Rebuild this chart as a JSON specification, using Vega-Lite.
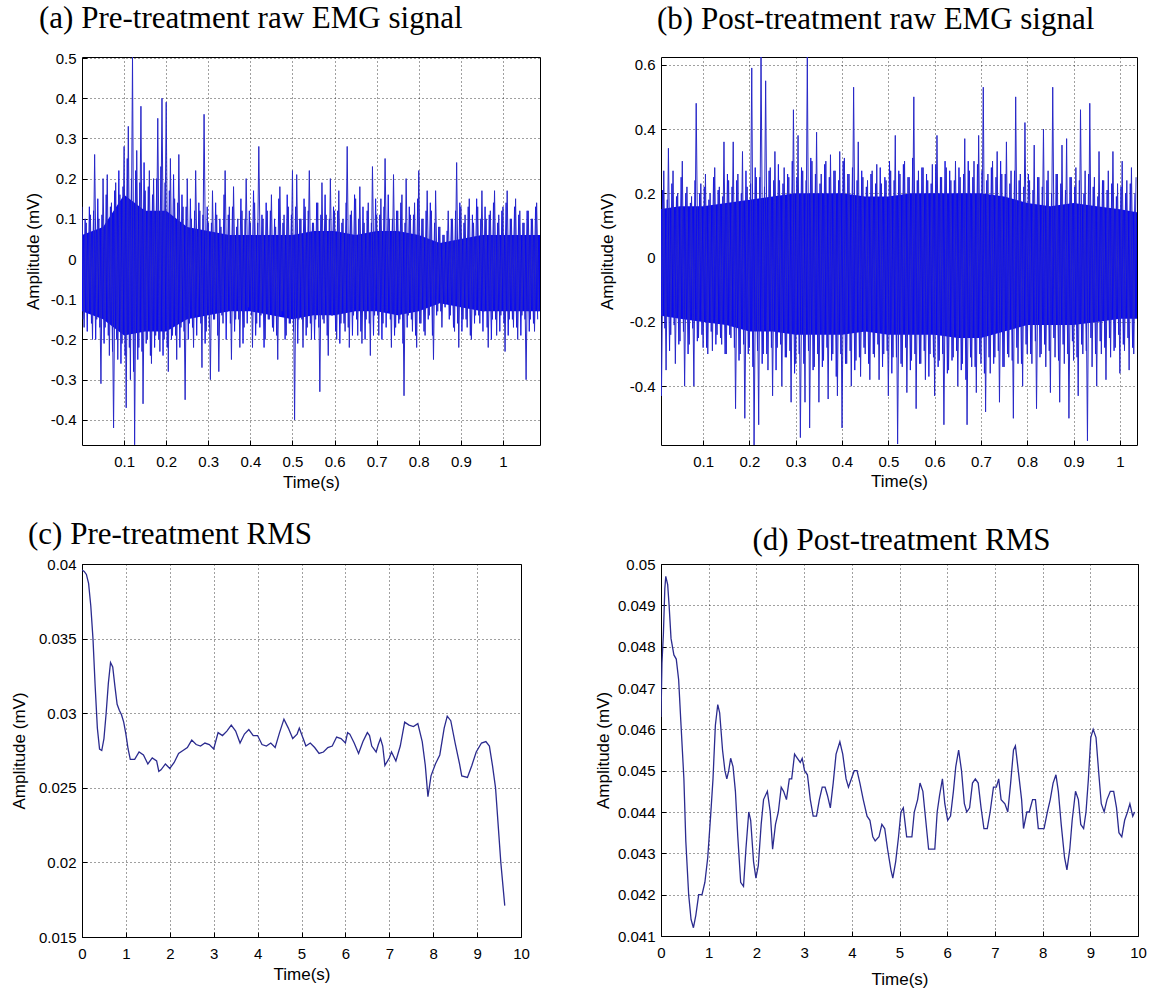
{
"$schema": "https://vega.github.io/schema/vega-lite/v6.json",
"background": "white",
"padding": {"left": 9, "top": 2, "right": 5, "bottom": 2},
"config": {
  "locale": {"number": {"decimal": ".", "thousands": ",", "grouping": [3], "currency": ["", ""], "minus": "-"}},
  "view": {"stroke": "#000", "strokeWidth": 1},
  "axis": {"grid": true, "gridColor": "#000", "gridDash": [1, 3], "gridOpacity": 0.75, "gridWidth": 1, "domain": false, "ticks": true, "tickSize": -5, "tickColor": "#000", "tickWidth": 1, "labelFont": "Liberation Sans", "labelFontSize": 15, "labelColor": "#000", "titleFont": "Liberation Sans", "titleFontSize": 17, "titleFontWeight": "normal", "titleColor": "#000", "labelFlush": false, "labelOverlap": false},
  "axisX": {"labelPadding": 14, "titleBaseline": "middle"},
  "axisY": {"labelPadding": 11, "titleBaseline": "bottom", "titleAngle": -90},
  "title": {"font": "Liberation Serif", "fontSize": 31, "fontWeight": "normal", "color": "#000", "baseline": "alphabetic", "frame": "group"}
},
"columns": 2,
"bounds": "flush",
"spacing": {"row": 119, "column": 121},
"datasets": {
  "a_core": [{"t":0,"v":-0.13,"hi":0.06},{"t":0.05,"v":-0.15,"hi":0.08},{"t":0.1,"v":-0.19,"hi":0.16},{"t":0.15,"v":-0.18,"hi":0.12},{"t":0.2,"v":-0.18,"hi":0.12},{"t":0.25,"v":-0.15,"hi":0.08},{"t":0.3,"v":-0.14,"hi":0.07},{"t":0.35,"v":-0.13,"hi":0.06},{"t":0.4,"v":-0.13,"hi":0.06},{"t":0.45,"v":-0.14,"hi":0.06},{"t":0.5,"v":-0.15,"hi":0.06},{"t":0.55,"v":-0.14,"hi":0.07},{"t":0.6,"v":-0.14,"hi":0.07},{"t":0.65,"v":-0.13,"hi":0.06},{"t":0.7,"v":-0.13,"hi":0.07},{"t":0.75,"v":-0.14,"hi":0.07},{"t":0.8,"v":-0.13,"hi":0.06},{"t":0.85,"v":-0.11,"hi":0.04},{"t":0.9,"v":-0.12,"hi":0.05},{"t":0.95,"v":-0.13,"hi":0.06},{"t":1.0,"v":-0.13,"hi":0.06},{"t":1.05,"v":-0.13,"hi":0.06},{"t":1.088,"v":-0.13,"hi":0.06}],
  "a_sig": [{"t":0,"v":0.13},{"t":0.005,"v":-0.17},{"t":0.01,"v":0.09},{"t":0.015,"v":-0.13},{"t":0.02,"v":0.11},{"t":0.025,"v":-0.2},{"t":0.03,"v":0.26},{"t":0.035,"v":-0.15},{"t":0.04,"v":0.1},{"t":0.045,"v":-0.31},{"t":0.05,"v":0.2},{"t":0.055,"v":-0.17},{"t":0.06,"v":0.21},{"t":0.065,"v":-0.24},{"t":0.07,"v":0.14},{"t":0.075,"v":-0.42},{"t":0.08,"v":0.19},{"t":0.085,"v":-0.25},{"t":0.09,"v":0.16},{"t":0.095,"v":-0.21},{"t":0.1,"v":0.28},{"t":0.105,"v":-0.37},{"t":0.11,"v":0.33},{"t":0.115,"v":-0.3},{"t":0.12,"v":0.505},{"t":0.125,"v":-0.462},{"t":0.13,"v":0.27},{"t":0.135,"v":-0.22},{"t":0.14,"v":0.38},{"t":0.145,"v":-0.36},{"t":0.15,"v":0.17},{"t":0.155,"v":-0.2},{"t":0.16,"v":0.22},{"t":0.165,"v":-0.26},{"t":0.17,"v":0.2},{"t":0.175,"v":-0.19},{"t":0.18,"v":0.35},{"t":0.185,"v":-0.23},{"t":0.19,"v":0.4},{"t":0.195,"v":-0.2},{"t":0.2,"v":0.39},{"t":0.205,"v":-0.28},{"t":0.21,"v":0.25},{"t":0.215,"v":-0.19},{"t":0.22,"v":0.15},{"t":0.225,"v":-0.25},{"t":0.23,"v":0.26},{"t":0.235,"v":-0.17},{"t":0.24,"v":0.13},{"t":0.245,"v":-0.35},{"t":0.25,"v":0.2},{"t":0.255,"v":-0.16},{"t":0.26,"v":0.1},{"t":0.265,"v":-0.22},{"t":0.27,"v":0.22},{"t":0.275,"v":-0.14},{"t":0.28,"v":0.12},{"t":0.285,"v":-0.27},{"t":0.29,"v":0.36},{"t":0.295,"v":-0.18},{"t":0.3,"v":0.09},{"t":0.305,"v":-0.3},{"t":0.31,"v":0.17},{"t":0.315,"v":-0.15},{"t":0.32,"v":0.11},{"t":0.325,"v":-0.28},{"t":0.33,"v":0.08},{"t":0.335,"v":-0.16},{"t":0.34,"v":0.22},{"t":0.345,"v":-0.13},{"t":0.35,"v":0.13},{"t":0.355,"v":-0.25},{"t":0.36,"v":0.18},{"t":0.365,"v":-0.15},{"t":0.37,"v":0.1},{"t":0.375,"v":-0.22},{"t":0.38,"v":0.12},{"t":0.385,"v":-0.17},{"t":0.39,"v":0.2},{"t":0.395,"v":-0.12},{"t":0.4,"v":0.09},{"t":0.405,"v":-0.22},{"t":0.41,"v":0.14},{"t":0.415,"v":-0.16},{"t":0.42,"v":0.28},{"t":0.425,"v":-0.14},{"t":0.43,"v":0.1},{"t":0.435,"v":-0.2},{"t":0.44,"v":0.12},{"t":0.445,"v":-0.15},{"t":0.45,"v":0.16},{"t":0.455,"v":-0.18},{"t":0.46,"v":0.08},{"t":0.465,"v":-0.25},{"t":0.47,"v":0.18},{"t":0.475,"v":-0.13},{"t":0.48,"v":0.11},{"t":0.485,"v":-0.19},{"t":0.49,"v":0.13},{"t":0.495,"v":-0.16},{"t":0.5,"v":0.22},{"t":0.505,"v":-0.4},{"t":0.51,"v":0.21},{"t":0.515,"v":-0.15},{"t":0.52,"v":0.1},{"t":0.525,"v":-0.22},{"t":0.53,"v":0.13},{"t":0.535,"v":-0.17},{"t":0.54,"v":0.22},{"t":0.545,"v":-0.2},{"t":0.55,"v":0.09},{"t":0.555,"v":-0.15},{"t":0.56,"v":0.14},{"t":0.565,"v":-0.33},{"t":0.57,"v":0.19},{"t":0.575,"v":-0.16},{"t":0.58,"v":0.11},{"t":0.585,"v":-0.24},{"t":0.59,"v":0.2},{"t":0.595,"v":-0.14},{"t":0.6,"v":0.12},{"t":0.605,"v":-0.2},{"t":0.61,"v":0.17},{"t":0.615,"v":-0.16},{"t":0.62,"v":0.1},{"t":0.625,"v":-0.18},{"t":0.63,"v":0.28},{"t":0.635,"v":-0.22},{"t":0.64,"v":0.12},{"t":0.645,"v":-0.14},{"t":0.65,"v":0.15},{"t":0.655,"v":-0.19},{"t":0.66,"v":0.18},{"t":0.665,"v":-0.21},{"t":0.67,"v":0.09},{"t":0.675,"v":-0.15},{"t":0.68,"v":0.14},{"t":0.685,"v":-0.24},{"t":0.69,"v":0.23},{"t":0.695,"v":-0.14},{"t":0.7,"v":0.11},{"t":0.705,"v":-0.19},{"t":0.71,"v":0.15},{"t":0.715,"v":-0.16},{"t":0.72,"v":0.25},{"t":0.725,"v":-0.13},{"t":0.73,"v":0.1},{"t":0.735,"v":-0.22},{"t":0.74,"v":0.21},{"t":0.745,"v":-0.17},{"t":0.75,"v":0.12},{"t":0.755,"v":-0.15},{"t":0.76,"v":0.16},{"t":0.765,"v":-0.34},{"t":0.77,"v":0.2},{"t":0.775,"v":-0.14},{"t":0.78,"v":0.11},{"t":0.785,"v":-0.18},{"t":0.79,"v":0.14},{"t":0.795,"v":-0.22},{"t":0.8,"v":0.22},{"t":0.805,"v":-0.16},{"t":0.81,"v":0.1},{"t":0.815,"v":-0.19},{"t":0.82,"v":0.17},{"t":0.825,"v":-0.14},{"t":0.83,"v":0.12},{"t":0.835,"v":-0.25},{"t":0.84,"v":0.17},{"t":0.845,"v":-0.13},{"t":0.85,"v":0.08},{"t":0.855,"v":-0.17},{"t":0.86,"v":0.06},{"t":0.865,"v":-0.11},{"t":0.87,"v":0.12},{"t":0.875,"v":-0.14},{"t":0.88,"v":0.1},{"t":0.885,"v":-0.18},{"t":0.89,"v":0.24},{"t":0.895,"v":-0.22},{"t":0.9,"v":0.13},{"t":0.905,"v":-0.15},{"t":0.91,"v":0.11},{"t":0.915,"v":-0.17},{"t":0.92,"v":0.15},{"t":0.925,"v":-0.2},{"t":0.93,"v":0.09},{"t":0.935,"v":-0.14},{"t":0.94,"v":0.13},{"t":0.945,"v":-0.16},{"t":0.95,"v":0.17},{"t":0.955,"v":-0.13},{"t":0.96,"v":0.1},{"t":0.965,"v":-0.22},{"t":0.97,"v":0.12},{"t":0.975,"v":-0.15},{"t":0.98,"v":0.17},{"t":0.985,"v":-0.19},{"t":0.99,"v":0.11},{"t":0.995,"v":-0.14},{"t":1.0,"v":0.13},{"t":1.005,"v":-0.23},{"t":1.01,"v":0.17},{"t":1.015,"v":-0.15},{"t":1.02,"v":0.1},{"t":1.025,"v":-0.17},{"t":1.03,"v":0.15},{"t":1.035,"v":-0.2},{"t":1.04,"v":0.12},{"t":1.045,"v":-0.14},{"t":1.05,"v":0.09},{"t":1.055,"v":-0.3},{"t":1.06,"v":0.12},{"t":1.065,"v":-0.15},{"t":1.07,"v":0.1},{"t":1.075,"v":-0.18},{"t":1.08,"v":0.14},{"t":1.085,"v":-0.13}],
  "a_sig2": [{"t":0.0025,"v":-0.15},{"t":0.0075,"v":0.1},{"t":0.0125,"v":-0.18},{"t":0.0175,"v":0.13},{"t":0.0225,"v":-0.16},{"t":0.0275,"v":0.12},{"t":0.0325,"v":-0.2},{"t":0.0375,"v":0.15},{"t":0.0425,"v":-0.17},{"t":0.0475,"v":0.11},{"t":0.0525,"v":-0.21},{"t":0.0575,"v":0.16},{"t":0.0625,"v":-0.19},{"t":0.0675,"v":0.13},{"t":0.0725,"v":-0.23},{"t":0.0775,"v":0.17},{"t":0.0825,"v":-0.2},{"t":0.0875,"v":0.22},{"t":0.0925,"v":-0.26},{"t":0.0975,"v":0.18},{"t":0.1025,"v":-0.24},{"t":0.1075,"v":0.25},{"t":0.1125,"v":-0.22},{"t":0.1175,"v":0.2},{"t":0.1225,"v":-0.28},{"t":0.1275,"v":0.22},{"t":0.1325,"v":-0.25},{"t":0.1375,"v":0.19},{"t":0.1425,"v":-0.23},{"t":0.1475,"v":0.24},{"t":0.1525,"v":-0.21},{"t":0.1575,"v":0.18},{"t":0.1625,"v":-0.24},{"t":0.1675,"v":0.16},{"t":0.1725,"v":-0.22},{"t":0.1775,"v":0.2},{"t":0.1825,"v":-0.2},{"t":0.1875,"v":0.23},{"t":0.1925,"v":-0.24},{"t":0.1975,"v":0.19},{"t":0.2025,"v":-0.22},{"t":0.2075,"v":0.17},{"t":0.2125,"v":-0.2},{"t":0.2175,"v":0.21},{"t":0.2225,"v":-0.19},{"t":0.2275,"v":0.14},{"t":0.2325,"v":-0.22},{"t":0.2375,"v":0.16},{"t":0.2425,"v":-0.18},{"t":0.2475,"v":0.13},{"t":0.2525,"v":-0.2},{"t":0.2575,"v":0.15},{"t":0.2625,"v":-0.17},{"t":0.2675,"v":0.12},{"t":0.2725,"v":-0.19},{"t":0.2775,"v":0.14},{"t":0.2825,"v":-0.16},{"t":0.2875,"v":0.11},{"t":0.2925,"v":-0.21},{"t":0.2975,"v":0.13},{"t":0.3025,"v":-0.17},{"t":0.3075,"v":0.09},{"t":0.3125,"v":-0.15},{"t":0.3175,"v":0.14},{"t":0.3225,"v":-0.19},{"t":0.3275,"v":0.1},{"t":0.3325,"v":-0.14},{"t":0.3375,"v":0.16},{"t":0.3425,"v":-0.2},{"t":0.3475,"v":0.11},{"t":0.3525,"v":-0.16},{"t":0.3575,"v":0.13},{"t":0.3625,"v":-0.18},{"t":0.3675,"v":0.08},{"t":0.3725,"v":-0.15},{"t":0.3775,"v":0.15},{"t":0.3825,"v":-0.21},{"t":0.3875,"v":0.1},{"t":0.3925,"v":-0.16},{"t":0.3975,"v":0.12},{"t":0.4025,"v":-0.14},{"t":0.4075,"v":0.17},{"t":0.4125,"v":-0.19},{"t":0.4175,"v":0.09},{"t":0.4225,"v":-0.17},{"t":0.4275,"v":0.11},{"t":0.4325,"v":-0.22},{"t":0.4375,"v":0.14},{"t":0.4425,"v":-0.15},{"t":0.4475,"v":0.12},{"t":0.4525,"v":-0.17},{"t":0.4575,"v":0.1},{"t":0.4625,"v":-0.19},{"t":0.4675,"v":0.15},{"t":0.4725,"v":-0.14},{"t":0.4775,"v":0.09},{"t":0.4825,"v":-0.2},{"t":0.4875,"v":0.16},{"t":0.4925,"v":-0.16},{"t":0.4975,"v":0.11},{"t":0.5025,"v":-0.18},{"t":0.5075,"v":0.13},{"t":0.5125,"v":-0.21},{"t":0.5175,"v":0.1},{"t":0.5225,"v":-0.15},{"t":0.5275,"v":0.15},{"t":0.5325,"v":-0.19},{"t":0.5375,"v":0.12},{"t":0.5425,"v":-0.16},{"t":0.5475,"v":0.09},{"t":0.5525,"v":-0.2},{"t":0.5575,"v":0.14},{"t":0.5625,"v":-0.17},{"t":0.5675,"v":0.11},{"t":0.5725,"v":-0.15},{"t":0.5775,"v":0.16},{"t":0.5825,"v":-0.19},{"t":0.5875,"v":0.1},{"t":0.5925,"v":-0.14},{"t":0.5975,"v":0.13},{"t":0.6025,"v":-0.18},{"t":0.6075,"v":0.12},{"t":0.6125,"v":-0.21},{"t":0.6175,"v":0.09},{"t":0.6225,"v":-0.16},{"t":0.6275,"v":0.14},{"t":0.6325,"v":-0.17},{"t":0.6375,"v":0.11},{"t":0.6425,"v":-0.19},{"t":0.6475,"v":0.16},{"t":0.6525,"v":-0.15},{"t":0.6575,"v":0.1},{"t":0.6625,"v":-0.18},{"t":0.6675,"v":0.13},{"t":0.6725,"v":-0.2},{"t":0.6775,"v":0.12},{"t":0.6825,"v":-0.16},{"t":0.6875,"v":0.09},{"t":0.6925,"v":-0.19},{"t":0.6975,"v":0.15},{"t":0.7025,"v":-0.14},{"t":0.7075,"v":0.11},{"t":0.7125,"v":-0.2},{"t":0.7175,"v":0.13},{"t":0.7225,"v":-0.17},{"t":0.7275,"v":0.16},{"t":0.7325,"v":-0.15},{"t":0.7375,"v":0.1},{"t":0.7425,"v":-0.19},{"t":0.7475,"v":0.12},{"t":0.7525,"v":-0.16},{"t":0.7575,"v":0.14},{"t":0.7625,"v":-0.21},{"t":0.7675,"v":0.09},{"t":0.7725,"v":-0.17},{"t":0.7775,"v":0.13},{"t":0.7825,"v":-0.15},{"t":0.7875,"v":0.11},{"t":0.7925,"v":-0.19},{"t":0.7975,"v":0.15},{"t":0.8025,"v":-0.16},{"t":0.8075,"v":0.1},{"t":0.8125,"v":-0.18},{"t":0.8175,"v":0.12},{"t":0.8225,"v":-0.15},{"t":0.8275,"v":0.14},{"t":0.8325,"v":-0.19},{"t":0.8375,"v":0.09},{"t":0.8425,"v":-0.14},{"t":0.8475,"v":0.08},{"t":0.8525,"v":-0.13},{"t":0.8575,"v":0.06},{"t":0.8625,"v":-0.12},{"t":0.8675,"v":0.07},{"t":0.8725,"v":-0.15},{"t":0.8775,"v":0.1},{"t":0.8825,"v":-0.17},{"t":0.8875,"v":0.12},{"t":0.8925,"v":-0.16},{"t":0.8975,"v":0.14},{"t":0.9025,"v":-0.18},{"t":0.9075,"v":0.09},{"t":0.9125,"v":-0.15},{"t":0.9175,"v":0.13},{"t":0.9225,"v":-0.19},{"t":0.9275,"v":0.11},{"t":0.9325,"v":-0.16},{"t":0.9375,"v":0.15},{"t":0.9425,"v":-0.14},{"t":0.9475,"v":0.1},{"t":0.9525,"v":-0.18},{"t":0.9575,"v":0.13},{"t":0.9625,"v":-0.17},{"t":0.9675,"v":0.11},{"t":0.9725,"v":-0.2},{"t":0.9775,"v":0.14},{"t":0.9825,"v":-0.15},{"t":0.9875,"v":0.09},{"t":0.9925,"v":-0.18},{"t":0.9975,"v":0.12},{"t":1.0025,"v":-0.16},{"t":1.0075,"v":0.14},{"t":1.0125,"v":-0.19},{"t":1.0175,"v":0.1},{"t":1.0225,"v":-0.15},{"t":1.0275,"v":0.13},{"t":1.0325,"v":-0.17},{"t":1.0375,"v":0.11},{"t":1.0425,"v":-0.19},{"t":1.0475,"v":0.09},{"t":1.0525,"v":-0.15},{"t":1.0575,"v":0.12},{"t":1.0625,"v":-0.18},{"t":1.0675,"v":0.1},{"t":1.0725,"v":-0.16},{"t":1.0775,"v":0.13},{"t":1.0825,"v":-0.15}],
  "b_core": [{"t":0.004,"v":-0.18,"hi":0.15},{"t":0.05,"v":-0.19,"hi":0.16},{"t":0.1,"v":-0.2,"hi":0.16},{"t":0.15,"v":-0.21,"hi":0.17},{"t":0.2,"v":-0.23,"hi":0.18},{"t":0.25,"v":-0.23,"hi":0.19},{"t":0.3,"v":-0.24,"hi":0.2},{"t":0.35,"v":-0.24,"hi":0.2},{"t":0.4,"v":-0.24,"hi":0.2},{"t":0.45,"v":-0.23,"hi":0.19},{"t":0.5,"v":-0.24,"hi":0.19},{"t":0.55,"v":-0.24,"hi":0.2},{"t":0.6,"v":-0.24,"hi":0.2},{"t":0.65,"v":-0.25,"hi":0.2},{"t":0.7,"v":-0.25,"hi":0.2},{"t":0.75,"v":-0.23,"hi":0.19},{"t":0.8,"v":-0.21,"hi":0.17},{"t":0.85,"v":-0.21,"hi":0.16},{"t":0.9,"v":-0.21,"hi":0.17},{"t":0.95,"v":-0.2,"hi":0.16},{"t":1.0,"v":-0.19,"hi":0.15},{"t":1.04,"v":-0.19,"hi":0.14}],
  "b_sig": [{"t":0.005,"v":0.45},{"t":0.01,"v":-0.43},{"t":0.015,"v":0.27},{"t":0.02,"v":-0.35},{"t":0.025,"v":0.34},{"t":0.03,"v":-0.24},{"t":0.035,"v":0.27},{"t":0.04,"v":-0.33},{"t":0.045,"v":0.2},{"t":0.05,"v":-0.26},{"t":0.055,"v":0.3},{"t":0.06,"v":-0.4},{"t":0.065,"v":0.22},{"t":0.07,"v":-0.27},{"t":0.075,"v":0.19},{"t":0.08,"v":-0.4},{"t":0.085,"v":0.48},{"t":0.09,"v":-0.25},{"t":0.095,"v":0.23},{"t":0.1,"v":-0.28},{"t":0.105,"v":0.26},{"t":0.11,"v":-0.3},{"t":0.115,"v":0.2},{"t":0.12,"v":-0.29},{"t":0.125,"v":0.28},{"t":0.13,"v":-0.24},{"t":0.135,"v":0.22},{"t":0.14,"v":-0.27},{"t":0.145,"v":0.36},{"t":0.15,"v":-0.3},{"t":0.155,"v":0.24},{"t":0.16,"v":-0.25},{"t":0.165,"v":0.36},{"t":0.17,"v":-0.47},{"t":0.175,"v":0.26},{"t":0.18,"v":-0.3},{"t":0.185,"v":0.33},{"t":0.19,"v":-0.5},{"t":0.195,"v":0.22},{"t":0.2,"v":-0.28},{"t":0.205,"v":0.59},{"t":0.21,"v":-0.583},{"t":0.215,"v":0.25},{"t":0.22,"v":-0.52},{"t":0.225,"v":0.624},{"t":0.23,"v":-0.3},{"t":0.235,"v":0.55},{"t":0.24,"v":-0.35},{"t":0.245,"v":0.28},{"t":0.25,"v":-0.43},{"t":0.255,"v":0.33},{"t":0.26,"v":-0.28},{"t":0.265,"v":0.24},{"t":0.27,"v":-0.4},{"t":0.275,"v":0.28},{"t":0.28,"v":-0.31},{"t":0.285,"v":0.25},{"t":0.29,"v":-0.45},{"t":0.295,"v":0.46},{"t":0.3,"v":-0.33},{"t":0.305,"v":0.38},{"t":0.31,"v":-0.56},{"t":0.315,"v":0.27},{"t":0.32,"v":-0.45},{"t":0.325,"v":0.624},{"t":0.33,"v":-0.53},{"t":0.335,"v":0.3},{"t":0.34,"v":-0.34},{"t":0.345,"v":0.39},{"t":0.35,"v":-0.45},{"t":0.355,"v":0.26},{"t":0.36,"v":-0.32},{"t":0.365,"v":0.3},{"t":0.37,"v":-0.44},{"t":0.375,"v":0.32},{"t":0.38,"v":-0.3},{"t":0.385,"v":0.27},{"t":0.39,"v":-0.43},{"t":0.395,"v":0.33},{"t":0.4,"v":-0.53},{"t":0.405,"v":0.31},{"t":0.41,"v":-0.33},{"t":0.415,"v":0.26},{"t":0.42,"v":-0.4},{"t":0.425,"v":0.53},{"t":0.43,"v":-0.32},{"t":0.435,"v":0.36},{"t":0.44,"v":-0.37},{"t":0.445,"v":0.25},{"t":0.45,"v":-0.3},{"t":0.455,"v":0.24},{"t":0.46,"v":-0.38},{"t":0.465,"v":0.27},{"t":0.47,"v":-0.31},{"t":0.475,"v":0.29},{"t":0.48,"v":-0.38},{"t":0.485,"v":0.23},{"t":0.49,"v":-0.3},{"t":0.495,"v":0.24},{"t":0.5,"v":-0.43},{"t":0.505,"v":0.27},{"t":0.51,"v":-0.31},{"t":0.515,"v":0.38},{"t":0.52,"v":-0.58},{"t":0.525,"v":0.26},{"t":0.53,"v":-0.34},{"t":0.535,"v":0.3},{"t":0.54,"v":-0.42},{"t":0.545,"v":0.25},{"t":0.55,"v":-0.32},{"t":0.555,"v":0.5},{"t":0.56,"v":-0.47},{"t":0.565,"v":0.27},{"t":0.57,"v":-0.33},{"t":0.575,"v":0.28},{"t":0.58,"v":-0.38},{"t":0.585,"v":0.24},{"t":0.59,"v":-0.3},{"t":0.595,"v":0.29},{"t":0.6,"v":-0.43},{"t":0.605,"v":0.38},{"t":0.61,"v":-0.32},{"t":0.615,"v":0.25},{"t":0.62,"v":-0.52},{"t":0.625,"v":0.28},{"t":0.63,"v":-0.35},{"t":0.635,"v":0.24},{"t":0.64,"v":-0.31},{"t":0.645,"v":0.3},{"t":0.65,"v":-0.4},{"t":0.655,"v":0.25},{"t":0.66,"v":-0.33},{"t":0.665,"v":0.37},{"t":0.67,"v":-0.52},{"t":0.675,"v":0.27},{"t":0.68,"v":-0.34},{"t":0.685,"v":0.3},{"t":0.69,"v":-0.42},{"t":0.695,"v":0.38},{"t":0.7,"v":-0.33},{"t":0.705,"v":0.53},{"t":0.71,"v":-0.48},{"t":0.715,"v":0.26},{"t":0.72,"v":-0.36},{"t":0.725,"v":0.3},{"t":0.73,"v":-0.31},{"t":0.735,"v":0.33},{"t":0.74,"v":-0.45},{"t":0.745,"v":0.26},{"t":0.75,"v":-0.34},{"t":0.755,"v":0.36},{"t":0.76,"v":-0.31},{"t":0.765,"v":0.27},{"t":0.77,"v":-0.5},{"t":0.775,"v":0.5},{"t":0.78,"v":-0.33},{"t":0.785,"v":0.26},{"t":0.79,"v":-0.4},{"t":0.795,"v":0.42},{"t":0.8,"v":-0.3},{"t":0.805,"v":0.24},{"t":0.81,"v":-0.33},{"t":0.815,"v":0.35},{"t":0.82,"v":-0.47},{"t":0.825,"v":0.25},{"t":0.83,"v":-0.3},{"t":0.835,"v":0.4},{"t":0.84,"v":-0.34},{"t":0.845,"v":0.27},{"t":0.85,"v":-0.42},{"t":0.855,"v":0.53},{"t":0.86,"v":-0.31},{"t":0.865,"v":0.26},{"t":0.87,"v":-0.45},{"t":0.875,"v":0.35},{"t":0.88,"v":-0.33},{"t":0.885,"v":0.37},{"t":0.89,"v":-0.5},{"t":0.895,"v":0.25},{"t":0.9,"v":-0.32},{"t":0.905,"v":0.28},{"t":0.91,"v":-0.43},{"t":0.915,"v":0.46},{"t":0.92,"v":-0.3},{"t":0.925,"v":0.27},{"t":0.93,"v":-0.57},{"t":0.935,"v":0.48},{"t":0.94,"v":-0.34},{"t":0.945,"v":0.25},{"t":0.95,"v":-0.4},{"t":0.955,"v":0.33},{"t":0.96,"v":-0.3},{"t":0.965,"v":0.24},{"t":0.97,"v":-0.38},{"t":0.975,"v":0.27},{"t":0.98,"v":-0.31},{"t":0.985,"v":0.33},{"t":0.99,"v":-0.28},{"t":0.995,"v":0.23},{"t":1.0,"v":-0.36},{"t":1.005,"v":0.3},{"t":1.01,"v":-0.29},{"t":1.015,"v":0.24},{"t":1.02,"v":-0.35},{"t":1.025,"v":0.28},{"t":1.03,"v":-0.3},{"t":1.035,"v":0.25}],
  "b_sig2": [{"t":0.0075,"v":-0.26},{"t":0.0125,"v":0.21},{"t":0.0175,"v":-0.22},{"t":0.0225,"v":0.18},{"t":0.0275,"v":-0.29},{"t":0.0325,"v":0.23},{"t":0.0375,"v":-0.21},{"t":0.0425,"v":0.19},{"t":0.0475,"v":-0.27},{"t":0.0525,"v":0.25},{"t":0.0575,"v":-0.23},{"t":0.0625,"v":0.2},{"t":0.0675,"v":-0.3},{"t":0.0725,"v":0.17},{"t":0.0775,"v":-0.22},{"t":0.0825,"v":0.24},{"t":0.0875,"v":-0.26},{"t":0.0925,"v":0.2},{"t":0.0975,"v":-0.24},{"t":0.1025,"v":0.22},{"t":0.1075,"v":-0.28},{"t":0.1125,"v":0.18},{"t":0.1175,"v":-0.23},{"t":0.1225,"v":0.25},{"t":0.1275,"v":-0.27},{"t":0.1325,"v":0.21},{"t":0.1375,"v":-0.25},{"t":0.1425,"v":0.19},{"t":0.1475,"v":-0.3},{"t":0.1525,"v":0.26},{"t":0.1575,"v":-0.24},{"t":0.1625,"v":0.22},{"t":0.1675,"v":-0.28},{"t":0.1725,"v":0.24},{"t":0.1775,"v":-0.32},{"t":0.1825,"v":0.2},{"t":0.1875,"v":-0.27},{"t":0.1925,"v":0.27},{"t":0.1975,"v":-0.3},{"t":0.2025,"v":0.23},{"t":0.2075,"v":-0.34},{"t":0.2125,"v":0.28},{"t":0.2175,"v":-0.29},{"t":0.2225,"v":0.25},{"t":0.2275,"v":-0.33},{"t":0.2325,"v":0.22},{"t":0.2375,"v":-0.3},{"t":0.2425,"v":0.27},{"t":0.2475,"v":-0.28},{"t":0.2525,"v":0.24},{"t":0.2575,"v":-0.35},{"t":0.2625,"v":0.29},{"t":0.2675,"v":-0.27},{"t":0.2725,"v":0.23},{"t":0.2775,"v":-0.31},{"t":0.2825,"v":0.26},{"t":0.2875,"v":-0.29},{"t":0.2925,"v":0.3},{"t":0.2975,"v":-0.36},{"t":0.3025,"v":0.25},{"t":0.3075,"v":-0.3},{"t":0.3125,"v":0.28},{"t":0.3175,"v":-0.33},{"t":0.3225,"v":0.24},{"t":0.3275,"v":-0.29},{"t":0.3325,"v":0.31},{"t":0.3375,"v":-0.35},{"t":0.3425,"v":0.26},{"t":0.3475,"v":-0.3},{"t":0.3525,"v":0.23},{"t":0.3575,"v":-0.34},{"t":0.3625,"v":0.29},{"t":0.3675,"v":-0.28},{"t":0.3725,"v":0.25},{"t":0.3775,"v":-0.32},{"t":0.3825,"v":0.27},{"t":0.3875,"v":-0.37},{"t":0.3925,"v":0.24},{"t":0.3975,"v":-0.3},{"t":0.4025,"v":0.3},{"t":0.4075,"v":-0.33},{"t":0.4125,"v":0.26},{"t":0.4175,"v":-0.29},{"t":0.4225,"v":0.28},{"t":0.4275,"v":-0.35},{"t":0.4325,"v":0.24},{"t":0.4375,"v":-0.31},{"t":0.4425,"v":0.27},{"t":0.4475,"v":-0.28},{"t":0.4525,"v":0.22},{"t":0.4575,"v":-0.33},{"t":0.4625,"v":0.26},{"t":0.4675,"v":-0.3},{"t":0.4725,"v":0.23},{"t":0.4775,"v":-0.27},{"t":0.4825,"v":0.28},{"t":0.4875,"v":-0.34},{"t":0.4925,"v":0.25},{"t":0.4975,"v":-0.29},{"t":0.5025,"v":0.3},{"t":0.5075,"v":-0.36},{"t":0.5125,"v":0.24},{"t":0.5175,"v":-0.31},{"t":0.5225,"v":0.27},{"t":0.5275,"v":-0.33},{"t":0.5325,"v":0.29},{"t":0.5375,"v":-0.28},{"t":0.5425,"v":0.25},{"t":0.5475,"v":-0.35},{"t":0.5525,"v":0.31},{"t":0.5575,"v":-0.3},{"t":0.5625,"v":0.24},{"t":0.5675,"v":-0.33},{"t":0.5725,"v":0.28},{"t":0.5775,"v":-0.29},{"t":0.5825,"v":0.26},{"t":0.5875,"v":-0.37},{"t":0.5925,"v":0.23},{"t":0.5975,"v":-0.31},{"t":0.6025,"v":0.29},{"t":0.6075,"v":-0.34},{"t":0.6125,"v":0.25},{"t":0.6175,"v":-0.3},{"t":0.6225,"v":0.3},{"t":0.6275,"v":-0.36},{"t":0.6325,"v":0.27},{"t":0.6375,"v":-0.32},{"t":0.6425,"v":0.24},{"t":0.6475,"v":-0.29},{"t":0.6525,"v":0.28},{"t":0.6575,"v":-0.35},{"t":0.6625,"v":0.26},{"t":0.6675,"v":-0.38},{"t":0.6725,"v":0.3},{"t":0.6775,"v":-0.31},{"t":0.6825,"v":0.25},{"t":0.6875,"v":-0.34},{"t":0.6925,"v":0.29},{"t":0.6975,"v":-0.3},{"t":0.7025,"v":0.27},{"t":0.7075,"v":-0.36},{"t":0.7125,"v":0.24},{"t":0.7175,"v":-0.31},{"t":0.7225,"v":0.28},{"t":0.7275,"v":-0.33},{"t":0.7325,"v":0.25},{"t":0.7375,"v":-0.29},{"t":0.7425,"v":0.3},{"t":0.7475,"v":-0.34},{"t":0.7525,"v":0.26},{"t":0.7575,"v":-0.3},{"t":0.7625,"v":0.23},{"t":0.7675,"v":-0.32},{"t":0.7725,"v":0.27},{"t":0.7775,"v":-0.28},{"t":0.7825,"v":0.24},{"t":0.7875,"v":-0.33},{"t":0.7925,"v":0.22},{"t":0.7975,"v":-0.27},{"t":0.8025,"v":0.26},{"t":0.8075,"v":-0.3},{"t":0.8125,"v":0.21},{"t":0.8175,"v":-0.26},{"t":0.8225,"v":0.25},{"t":0.8275,"v":-0.31},{"t":0.8325,"v":0.22},{"t":0.8375,"v":-0.27},{"t":0.8425,"v":0.24},{"t":0.8475,"v":-0.29},{"t":0.8525,"v":0.2},{"t":0.8575,"v":-0.25},{"t":0.8625,"v":0.26},{"t":0.8675,"v":-0.32},{"t":0.8725,"v":0.23},{"t":0.8775,"v":-0.27},{"t":0.8825,"v":0.21},{"t":0.8875,"v":-0.3},{"t":0.8925,"v":0.25},{"t":0.8975,"v":-0.26},{"t":0.9025,"v":0.22},{"t":0.9075,"v":-0.31},{"t":0.9125,"v":0.24},{"t":0.9175,"v":-0.27},{"t":0.9225,"v":0.2},{"t":0.9275,"v":-0.29},{"t":0.9325,"v":0.26},{"t":0.9375,"v":-0.25},{"t":0.9425,"v":0.22},{"t":0.9475,"v":-0.3},{"t":0.9525,"v":0.19},{"t":0.9575,"v":-0.26},{"t":0.9625,"v":0.24},{"t":0.9675,"v":-0.28},{"t":0.9725,"v":0.21},{"t":0.9775,"v":-0.25},{"t":0.9825,"v":0.23},{"t":0.9875,"v":-0.29},{"t":0.9925,"v":0.19},{"t":0.9975,"v":-0.24},{"t":1.0025,"v":0.22},{"t":1.0075,"v":-0.27},{"t":1.0125,"v":0.2},{"t":1.0175,"v":-0.25},{"t":1.0225,"v":0.23},{"t":1.0275,"v":-0.28},{"t":1.0325,"v":0.2}],
  "c_rms": [{"t":0,"v":0.0396},{"t":0.05,"v":0.0395},{"t":0.1,"v":0.0393},{"t":0.15,"v":0.0387},{"t":0.2,"v":0.0372},{"t":0.25,"v":0.035},{"t":0.3,"v":0.0318},{"t":0.35,"v":0.029},{"t":0.4,"v":0.0276},{"t":0.45,"v":0.0275},{"t":0.5,"v":0.0283},{"t":0.55,"v":0.03},{"t":0.6,"v":0.032},{"t":0.65,"v":0.0334},{"t":0.7,"v":0.0331},{"t":0.75,"v":0.0318},{"t":0.8,"v":0.0306},{"t":0.85,"v":0.0302},{"t":0.9,"v":0.0299},{"t":0.95,"v":0.0294},{"t":1.0,"v":0.0286},{"t":1.05,"v":0.0276},{"t":1.1,"v":0.0269},{"t":1.2,"v":0.0269},{"t":1.3,"v":0.0274},{"t":1.4,"v":0.0272},{"t":1.5,"v":0.0266},{"t":1.6,"v":0.027},{"t":1.7,"v":0.0268},{"t":1.75,"v":0.0261},{"t":1.8,"v":0.0262},{"t":1.9,"v":0.0266},{"t":2.0,"v":0.0263},{"t":2.1,"v":0.0267},{"t":2.2,"v":0.0273},{"t":2.3,"v":0.0275},{"t":2.4,"v":0.0277},{"t":2.5,"v":0.0282},{"t":2.6,"v":0.0279},{"t":2.7,"v":0.0278},{"t":2.8,"v":0.028},{"t":2.9,"v":0.0279},{"t":3.0,"v":0.0276},{"t":3.1,"v":0.0287},{"t":3.2,"v":0.0285},{"t":3.3,"v":0.0288},{"t":3.4,"v":0.0292},{"t":3.5,"v":0.0288},{"t":3.6,"v":0.028},{"t":3.7,"v":0.0286},{"t":3.8,"v":0.0289},{"t":3.9,"v":0.0285},{"t":4.0,"v":0.0285},{"t":4.1,"v":0.0279},{"t":4.2,"v":0.0278},{"t":4.3,"v":0.028},{"t":4.4,"v":0.0277},{"t":4.5,"v":0.0287},{"t":4.6,"v":0.0296},{"t":4.7,"v":0.029},{"t":4.8,"v":0.0283},{"t":4.9,"v":0.0286},{"t":4.95,"v":0.029},{"t":5.0,"v":0.0286},{"t":5.1,"v":0.0278},{"t":5.2,"v":0.028},{"t":5.3,"v":0.0277},{"t":5.4,"v":0.0273},{"t":5.5,"v":0.0274},{"t":5.6,"v":0.0277},{"t":5.7,"v":0.0278},{"t":5.8,"v":0.0284},{"t":5.9,"v":0.0283},{"t":6.0,"v":0.028},{"t":6.05,"v":0.0287},{"t":6.1,"v":0.0286},{"t":6.2,"v":0.028},{"t":6.3,"v":0.0273},{"t":6.4,"v":0.0281},{"t":6.5,"v":0.0287},{"t":6.55,"v":0.0285},{"t":6.6,"v":0.0278},{"t":6.7,"v":0.0274},{"t":6.75,"v":0.0279},{"t":6.8,"v":0.0283},{"t":6.85,"v":0.0278},{"t":6.9,"v":0.0265},{"t":7.0,"v":0.027},{"t":7.05,"v":0.0274},{"t":7.15,"v":0.0268},{"t":7.25,"v":0.0278},{"t":7.35,"v":0.0294},{"t":7.45,"v":0.0292},{"t":7.55,"v":0.0291},{"t":7.65,"v":0.0293},{"t":7.75,"v":0.0281},{"t":7.82,"v":0.0265},{"t":7.88,"v":0.0244},{"t":7.95,"v":0.0258},{"t":8.05,"v":0.0266},{"t":8.15,"v":0.0272},{"t":8.25,"v":0.029},{"t":8.32,"v":0.0298},{"t":8.4,"v":0.0295},{"t":8.5,"v":0.028},{"t":8.6,"v":0.0266},{"t":8.65,"v":0.0258},{"t":8.78,"v":0.0257},{"t":8.88,"v":0.0265},{"t":8.98,"v":0.0274},{"t":9.1,"v":0.028},{"t":9.2,"v":0.0281},{"t":9.28,"v":0.0278},{"t":9.35,"v":0.0265},{"t":9.42,"v":0.025},{"t":9.54,"v":0.02},{"t":9.63,"v":0.0171}],
  "d_rms": [{"t":0,"v":0.0463},{"t":0.02,"v":0.0476},{"t":0.05,"v":0.0483},{"t":0.08,"v":0.0494},{"t":0.1,"v":0.0497},{"t":0.14,"v":0.0495},{"t":0.17,"v":0.049},{"t":0.21,"v":0.0482},{"t":0.27,"v":0.0478},{"t":0.32,"v":0.0477},{"t":0.37,"v":0.0472},{"t":0.42,"v":0.0461},{"t":0.48,"v":0.0448},{"t":0.52,"v":0.0433},{"t":0.58,"v":0.042},{"t":0.63,"v":0.0414},{"t":0.68,"v":0.0412},{"t":0.73,"v":0.0415},{"t":0.79,"v":0.042},{"t":0.86,"v":0.042},{"t":0.92,"v":0.0423},{"t":0.98,"v":0.0429},{"t":1.04,"v":0.0439},{"t":1.09,"v":0.0448},{"t":1.14,"v":0.0461},{"t":1.19,"v":0.0466},{"t":1.23,"v":0.0464},{"t":1.29,"v":0.0455},{"t":1.34,"v":0.045},{"t":1.38,"v":0.0448},{"t":1.42,"v":0.045},{"t":1.46,"v":0.0453},{"t":1.51,"v":0.0451},{"t":1.56,"v":0.0445},{"t":1.61,"v":0.0434},{"t":1.67,"v":0.0423},{"t":1.73,"v":0.0422},{"t":1.78,"v":0.0431},{"t":1.84,"v":0.044},{"t":1.88,"v":0.0438},{"t":1.94,"v":0.0428},{"t":1.99,"v":0.0424},{"t":2.04,"v":0.0427},{"t":2.1,"v":0.0437},{"t":2.15,"v":0.0443},{"t":2.23,"v":0.0445},{"t":2.29,"v":0.044},{"t":2.34,"v":0.0431},{"t":2.4,"v":0.0437},{"t":2.46,"v":0.044},{"t":2.52,"v":0.0446},{"t":2.57,"v":0.0445},{"t":2.63,"v":0.0443},{"t":2.69,"v":0.0448},{"t":2.74,"v":0.0448},{"t":2.8,"v":0.0454},{"t":2.86,"v":0.0453},{"t":2.92,"v":0.0452},{"t":2.96,"v":0.0453},{"t":3.01,"v":0.045},{"t":3.07,"v":0.0449},{"t":3.13,"v":0.0443},{"t":3.19,"v":0.0439},{"t":3.26,"v":0.0439},{"t":3.32,"v":0.0443},{"t":3.38,"v":0.0446},{"t":3.44,"v":0.0446},{"t":3.49,"v":0.0444},{"t":3.55,"v":0.0441},{"t":3.61,"v":0.0447},{"t":3.67,"v":0.0454},{"t":3.75,"v":0.0457},{"t":3.81,"v":0.0454},{"t":3.88,"v":0.0448},{"t":3.93,"v":0.0446},{"t":3.99,"v":0.0448},{"t":4.05,"v":0.045},{"t":4.11,"v":0.045},{"t":4.17,"v":0.0447},{"t":4.24,"v":0.0443},{"t":4.32,"v":0.0439},{"t":4.38,"v":0.0438},{"t":4.44,"v":0.0434},{"t":4.49,"v":0.0433},{"t":4.57,"v":0.0434},{"t":4.63,"v":0.0437},{"t":4.69,"v":0.0436},{"t":4.75,"v":0.0431},{"t":4.82,"v":0.0426},{"t":4.86,"v":0.0424},{"t":4.92,"v":0.0428},{"t":4.98,"v":0.0434},{"t":5.03,"v":0.044},{"t":5.08,"v":0.0441},{"t":5.15,"v":0.0434},{"t":5.22,"v":0.0434},{"t":5.26,"v":0.0434},{"t":5.31,"v":0.044},{"t":5.38,"v":0.0443},{"t":5.43,"v":0.0447},{"t":5.49,"v":0.0445},{"t":5.55,"v":0.0438},{"t":5.61,"v":0.0431},{"t":5.67,"v":0.0431},{"t":5.74,"v":0.0431},{"t":5.79,"v":0.044},{"t":5.84,"v":0.0444},{"t":5.9,"v":0.0448},{"t":5.95,"v":0.0442},{"t":6.01,"v":0.0438},{"t":6.07,"v":0.0439},{"t":6.13,"v":0.0445},{"t":6.18,"v":0.0451},{"t":6.24,"v":0.0455},{"t":6.3,"v":0.045},{"t":6.36,"v":0.0442},{"t":6.41,"v":0.044},{"t":6.47,"v":0.0441},{"t":6.53,"v":0.0447},{"t":6.59,"v":0.0448},{"t":6.65,"v":0.0447},{"t":6.71,"v":0.0441},{"t":6.77,"v":0.0436},{"t":6.84,"v":0.0436},{"t":6.9,"v":0.044},{"t":6.97,"v":0.0446},{"t":7.03,"v":0.0446},{"t":7.08,"v":0.0448},{"t":7.13,"v":0.0443},{"t":7.21,"v":0.0442},{"t":7.27,"v":0.044},{"t":7.33,"v":0.0447},{"t":7.39,"v":0.0455},{"t":7.43,"v":0.0456},{"t":7.49,"v":0.045},{"t":7.56,"v":0.0443},{"t":7.6,"v":0.0436},{"t":7.67,"v":0.044},{"t":7.72,"v":0.044},{"t":7.79,"v":0.0443},{"t":7.85,"v":0.0443},{"t":7.91,"v":0.0436},{"t":7.97,"v":0.0436},{"t":8.03,"v":0.0436},{"t":8.1,"v":0.044},{"t":8.16,"v":0.0443},{"t":8.22,"v":0.0447},{"t":8.28,"v":0.0449},{"t":8.33,"v":0.0445},{"t":8.39,"v":0.0437},{"t":8.46,"v":0.0429},{"t":8.51,"v":0.0426},{"t":8.57,"v":0.0431},{"t":8.62,"v":0.0438},{"t":8.69,"v":0.0445},{"t":8.75,"v":0.0443},{"t":8.8,"v":0.0437},{"t":8.86,"v":0.0436},{"t":8.91,"v":0.044},{"t":8.96,"v":0.0448},{"t":9.01,"v":0.0458},{"t":9.06,"v":0.046},{"t":9.12,"v":0.0458},{"t":9.18,"v":0.0449},{"t":9.23,"v":0.0442},{"t":9.29,"v":0.044},{"t":9.35,"v":0.0443},{"t":9.42,"v":0.0445},{"t":9.49,"v":0.0445},{"t":9.55,"v":0.0441},{"t":9.6,"v":0.0435},{"t":9.66,"v":0.0434},{"t":9.72,"v":0.0438},{"t":9.78,"v":0.044},{"t":9.83,"v":0.0442},{"t":9.89,"v":0.0439},{"t":9.93,"v":0.044}]
},
"concat": [
  {
    "width": 458, "height": 388,
    "title": {"text": "(a) Pre-treatment raw EMG signal", "anchor": "start", "dx": -43, "offset": 16},
    "encoding": {
      "x": {"field": "t", "type": "quantitative", "scale": {"domain": [0, 1.088], "nice": false, "zero": false}, "axis": {"values": [0.1,0.2,0.3,0.4,0.5,0.6,0.7,0.8,0.9,1], "format": ".1~f", "title": "Time(s)", "titleY": 37}},
      "y": {"field": "v", "type": "quantitative", "scale": {"domain": [-0.4625, 0.5025], "nice": false, "zero": false}, "axis": {"values": [-0.4,-0.3,-0.2,-0.1,0,0.1,0.2,0.3,0.4,0.5], "format": ".1~f", "title": "Amplitude (mV)", "titleX": -40}}
    },
    "layer": [
      {"data": {"name": "a_core"}, "mark": {"type": "area", "color": "#0808f2", "clip": true}, "encoding": {"y2": {"field": "hi"}}},
      {"data": {"name": "a_sig2"}, "mark": {"type": "line", "color": "#1c1ce0", "strokeWidth": 1, "clip": true}},
      {"data": {"name": "a_sig"}, "mark": {"type": "line", "color": "#2828c8", "strokeWidth": 1, "clip": true}}
    ]
  },
  {
    "width": 476, "height": 388,
    "title": {"text": "(b) Post-treatment raw EMG signal", "anchor": "start", "dx": -4, "offset": 21},
    "encoding": {
      "x": {"field": "t", "type": "quantitative", "scale": {"domain": [0.009, 1.037], "nice": false, "zero": false}, "axis": {"values": [0.1,0.2,0.3,0.4,0.5,0.6,0.7,0.8,0.9,1], "format": ".1~f", "title": "Time(s)", "titleY": 36.5}},
      "y": {"field": "v", "type": "quantitative", "scale": {"domain": [-0.583, 0.624], "nice": false, "zero": false}, "axis": {"values": [-0.4,-0.2,0,0.2,0.4,0.6], "format": ".1~f", "title": "Amplitude (mV)", "titleX": -45}}
    },
    "layer": [
      {"data": {"name": "b_core"}, "mark": {"type": "area", "color": "#0808f2", "clip": true}, "encoding": {"y2": {"field": "hi"}}},
      {"data": {"name": "b_sig2"}, "mark": {"type": "line", "color": "#1c1ce0", "strokeWidth": 1, "clip": true}},
      {"data": {"name": "b_sig"}, "mark": {"type": "line", "color": "#2828c8", "strokeWidth": 1, "clip": true}}
    ]
  },
  {
    "width": 439, "height": 373,
    "title": {"text": "(c) Pre-treatment RMS", "anchor": "start", "dx": -54, "offset": 6},
    "data": {"name": "c_rms"},
    "mark": {"type": "line", "color": "#2b2b8f", "strokeWidth": 1.3, "clip": true},
    "encoding": {
      "x": {"field": "t", "type": "quantitative", "scale": {"domain": [0, 10], "nice": false, "zero": false}, "axis": {"values": [0,1,2,3,4,5,6,7,8,9,10], "format": "d", "title": "Time(s)", "titleY": 37.5}},
      "y": {"field": "v", "type": "quantitative", "scale": {"domain": [0.015, 0.04], "nice": false, "zero": false}, "axis": {"values": [0.015,0.02,0.025,0.03,0.035,0.04], "format": ".3~f", "title": "Amplitude (mV)", "titleX": -54}}
    }
  },
  {
    "width": 477, "height": 372,
    "title": {"text": "(d) Post-treatment RMS", "anchor": "middle", "dx": 2, "offset": 0},
    "data": {"name": "d_rms"},
    "mark": {"type": "line", "color": "#2b2b8f", "strokeWidth": 1.3, "clip": true},
    "encoding": {
      "x": {"field": "t", "type": "quantitative", "scale": {"domain": [0, 10], "nice": false, "zero": false}, "axis": {"values": [0,1,2,3,4,5,6,7,8,9,10], "format": "d", "title": "Time(s)", "titleY": 43}},
      "y": {"field": "v", "type": "quantitative", "scale": {"domain": [0.041, 0.05], "nice": false, "zero": false}, "axis": {"values": [0.041,0.042,0.043,0.044,0.045,0.046,0.047,0.048,0.049,0.05], "format": ".3~f", "title": "Amplitude (mV)", "titleX": -49}}
    }
  }
]
}
